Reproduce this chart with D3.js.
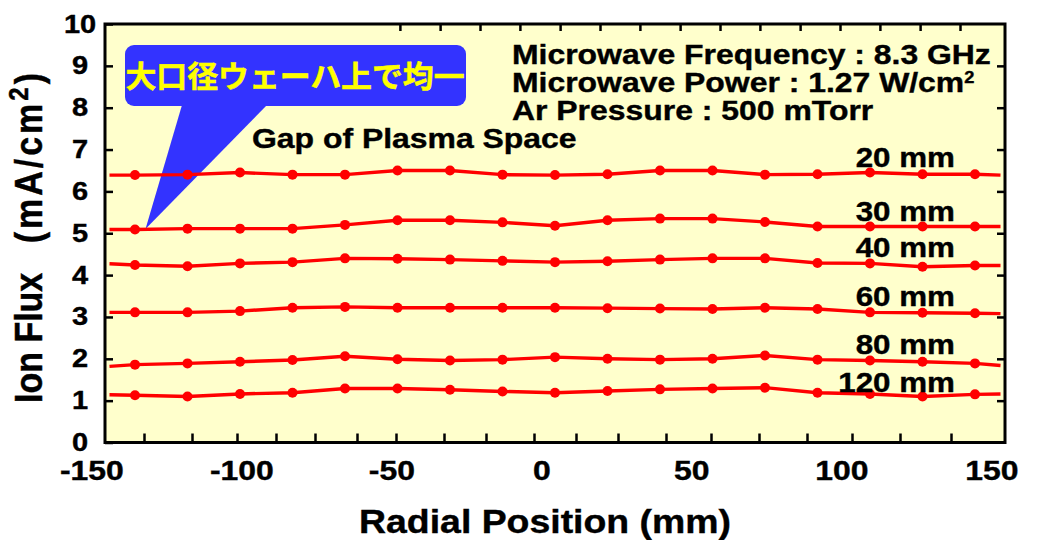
<!DOCTYPE html>
<html>
<head>
<meta charset="utf-8">
<script src="https://cdn.jsdelivr.net/npm/d3@7"></script>
<style>
  body { margin: 0; background: #fff; }
  text { font-family: "Liberation Sans", Arial, sans-serif; font-weight: bold; fill: #000; stroke: #000; stroke-width: 0.4px; }
  .jp { font-family: "Noto Sans CJK JP", sans-serif; font-weight: bold; fill: #ffff00; stroke: #ffff00; stroke-width: 0.5px; }
</style>
</head>
<body>
<div id="chart-area"></div>
<script>
// radial positions (mm); first and last are the line ends without a marker
var radialPos = [-148.5, -140, -122.5, -105, -87.5, -70, -52.5, -35, -17.5, 0,
                 17.5, 35, 52.5, 70, 87.5, 105, 122.5, 140, 148.5];

// ion flux (mA/cm2) for each plasma gap
var gap20  = [6.39, 6.39, 6.40, 6.45, 6.40, 6.40, 6.50, 6.50, 6.40, 6.39, 6.41, 6.50, 6.50, 6.40, 6.41, 6.45, 6.41, 6.41, 6.39];
var gap30  = [5.09, 5.09, 5.11, 5.11, 5.11, 5.20, 5.31, 5.31, 5.26, 5.18, 5.31, 5.35, 5.35, 5.27, 5.16, 5.16, 5.16, 5.16, 5.16];
var gap40  = [4.27, 4.24, 4.21, 4.28, 4.31, 4.40, 4.39, 4.37, 4.34, 4.31, 4.33, 4.37, 4.40, 4.40, 4.29, 4.28, 4.20, 4.23, 4.23];
var gap60  = [3.11, 3.11, 3.11, 3.14, 3.22, 3.24, 3.22, 3.22, 3.22, 3.22, 3.21, 3.20, 3.19, 3.22, 3.19, 3.11, 3.10, 3.09, 3.08];
var gap80  = [1.82, 1.86, 1.89, 1.93, 1.97, 2.06, 1.99, 1.96, 1.98, 2.04, 2.00, 1.98, 2.00, 2.08, 1.98, 1.96, 1.93, 1.89, 1.84];
var gap120 = [1.14, 1.13, 1.10, 1.16, 1.19, 1.29, 1.29, 1.26, 1.22, 1.19, 1.23, 1.27, 1.29, 1.31, 1.19, 1.16, 1.10, 1.15, 1.16];

var seriesNames = ["20 mm", "30 mm", "40 mm", "60 mm", "80 mm", "120 mm"];
var seriesValues = [gap20, gap30, gap40, gap60, gap80, gap120];

// tick labels and tick marks
var xLabels = [-150, -100, -50, 0, 50, 100, 150];
var yTicks = [0, 1, 2, 3, 4, 5, 6, 7, 8, 9, 10];
var bottomTicks = [-137, -121, -106, -93, -80, -66, -53, -37, -23, -7, 7, 21, 37, 52, 68, 84, 99, 115, 132];
var topTicks = [-51.7, -38.3, -25, -11.7, 1.7, 15, 28.3, 41.7, 55, 68.3, 81.7, 95, 108.3, 121.7, 135];

var infoLines = ["Microwave Frequency : 8.3 GHz", "Microwave Power : 1.27 W/cm", "Ar Pressure : 500 mTorr"];
var calloutText = "大口径ウェーハ上で均一";

var margin = {left: 105, right: 33, top: 24, bottom: 97.5};
var width = 1038 - margin.left - margin.right,
    height = 540 - margin.top - margin.bottom;
var stretch = 1.14;

var svg = d3.select("#chart-area")
    .append("svg")
    .attr("width", 1038)
    .attr("height", 540);

var g = svg.append("g")
    .attr("transform", "translate(" + margin.left + "," + margin.top + ")");

var x = d3.scaleLinear().domain([-150, 150]).range([0, width]);
var y = d3.scaleLinear().domain([0, 10]).range([height, 0]);

// plot background
g.append("rect")
    .attr("width", width)
    .attr("height", height)
    .attr("fill", "#ffffcc");

// helper for the horizontally stretched lettering
function place(sel, px, py, s) {
    return sel.attr("transform", "translate(" + px + "," + py + ") scale(" + (s || stretch) + ",1)");
}

// axes
var leftAxis = g.append("g")
    .call(d3.axisLeft(y).tickValues(yTicks).tickSizeInner(-8).tickSizeOuter(0).tickPadding(15));
leftAxis.selectAll("text")
    .attr("font-size", 25)
    .attr("text-anchor", "middle")
    .attr("x", -25 / 1.16)
    .attr("transform", "scale(1.16,1)");

g.append("g")
    .attr("transform", "translate(" + width + ",0)")
    .call(d3.axisRight(y).tickValues(yTicks.slice(1, 10)).tickSizeInner(-8).tickSizeOuter(0).tickFormat(""));

g.append("g")
    .attr("transform", "translate(0," + height + ")")
    .call(d3.axisBottom(x).tickValues(bottomTicks).tickSizeInner(-9).tickSizeOuter(0).tickFormat(""));

var bottomLabels = g.append("g")
    .attr("transform", "translate(0," + height + ")")
    .call(d3.axisBottom(x).tickValues(xLabels).tickSize(0).tickPadding(17.5)
        .tickFormat(function (d) { return String(d); }));
bottomLabels.selectAll("text").attr("font-size", 28).attr("dx", -12).attr("transform", "scale(1.14,1)");

g.append("g")
    .call(d3.axisTop(x).tickValues(topTicks).tickSizeInner(-7).tickSizeOuter(0).tickFormat(""));

g.selectAll(".domain").remove();
g.selectAll(".tick line").attr("stroke", "#000").attr("stroke-width", 2.5);
g.selectAll(".tick text").attr("fill", "#000").style("font-family", null);

// frame
g.append("rect")
    .attr("width", width)
    .attr("height", height)
    .attr("fill", "none")
    .attr("stroke", "#000")
    .attr("stroke-width", 3);

// callout
var tipX = x(-136.5), tipY = y(5.1);
g.append("path")
    .attr("d", "M" + (182 - margin.left) + "," + (105 - margin.top) + " L" + (267 - margin.left) + "," + (105 - margin.top) + " L" + tipX + "," + tipY + " Z")
    .attr("fill", "#3333ff");
g.append("rect")
    .attr("x", 125 - margin.left)
    .attr("y", 45 - margin.top)
    .attr("width", 341)
    .attr("height", 61)
    .attr("rx", 9)
    .attr("fill", "#3333ff");
place(g.append("text").attr("class", "jp").attr("font-size", 30).attr("text-anchor", "middle").text(calloutText),
    295 - margin.left, 87 - margin.top, 1.03);

// series lines and markers
var line = d3.line()
    .x(function (d, i) { return x(radialPos[i]); })
    .y(function (d) { return y(d); });

seriesValues.forEach(function (vals, k) {
    g.append("path")
        .datum(vals)
        .attr("fill", "none")
        .attr("stroke", "#ff0000")
        .attr("stroke-width", 3.4)
        .attr("d", line);

    g.selectAll(".dot" + k)
        .data(vals.slice(1, vals.length - 1))
        .enter()
        .append("circle")
        .attr("cx", function (d, i) { return x(radialPos[i + 1]); })
        .attr("cy", function (d) { return y(d); })
        .attr("r", 5)
        .attr("fill", "#ff0000");

    place(g.append("text").attr("font-size", 28).attr("text-anchor", "end").text(seriesNames[k]),
        955 - margin.left, y(vals[15]) - (k == 5 ? 2 : 6), 1.12);
});

// info text
infoLines.forEach(function (t, i) {
    var txt = place(g.append("text").attr("font-size", 28).text(t),
        512 - margin.left, 63.5 + i * 28.3 - margin.top);
    if (i == 1) {
        txt.append("tspan").attr("font-size", 16).attr("dy", -9).text("2");
    }
});

place(g.append("text").attr("font-size", 28).text("Gap of Plasma Space"), 252 - margin.left, 148 - margin.top);

// axis titles
place(svg.append("text").attr("font-size", 34).attr("text-anchor", "middle").text("Radial Position (mm)"), 545, 533, 1.1);

svg.append("text")
    .attr("font-size", 34)
    .attr("transform", "translate(42,403) scale(1.14,1) rotate(-90)")
    .text("Ion Flux");

var unit = svg.append("text")
    .attr("font-size", 34)
    .attr("letter-spacing", 3)
    .attr("text-anchor", "end")
    .attr("transform", "translate(42,70) scale(1.14,1) rotate(-90)");
unit.append("tspan").text("(mA/cm");
unit.append("tspan").attr("font-size", 24).attr("dy", -12).text("2");
unit.append("tspan").attr("dy", 12).text(")");
</script>
</body>
</html>
